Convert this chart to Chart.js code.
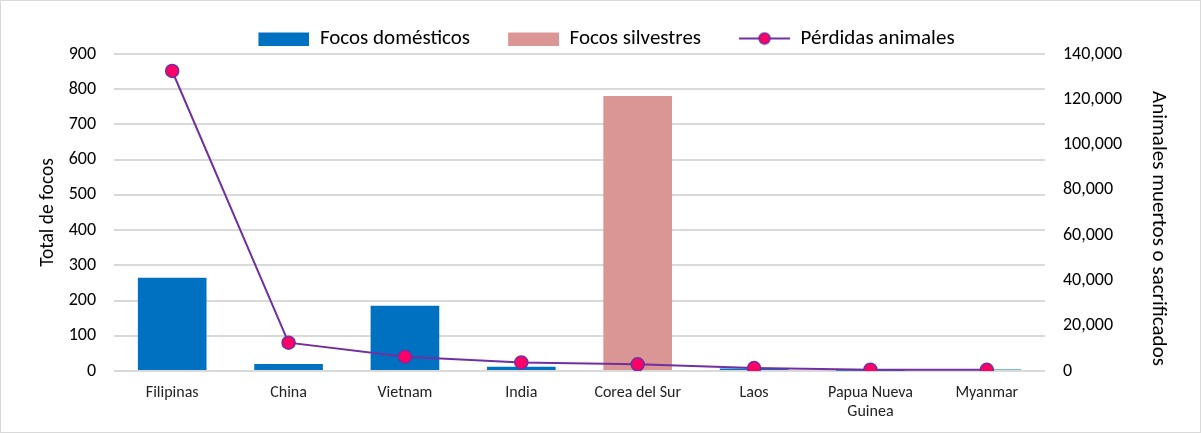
<!DOCTYPE html>
<html><head><meta charset="utf-8">
<script src="https://cdn.jsdelivr.net/npm/chart.js@4/dist/chart.umd.min.js"></script>
<style>html,body{margin:0;padding:0;background:#fff}#w{width:1201px;height:433px;position:relative}</style>
</head><body><div id="w"><canvas id="c" width="1201" height="433"></canvas></div>
<script>
const categories = ['Filipinas','China','Vietnam','India','Corea del Sur','Laos',['Papua Nueva','Guinea'],'Myanmar'];
const focosDomesticos = [265, 20, 185, 12, 0, 7, 1, 4];
const focosSilvestres = [0, 0, 0, 0, 781, 0, 0, 0];
const perdidasAnimales = [132500, 12500, 6300, 3800, 2950, 1300, 600, 500];
const leftTicks = [0,100,200,300,400,500,600,700,800,900];
const rightTicks = [0,20000,40000,60000,80000,100000,120000,140000];
const rightTitle = 'Animales muertos o sacrificados';

const FONT = "Carlito, Lato, 'Liberation Sans', sans-serif";
const BLUE = '#0070c0', PINK = '#da9694', PURPLE = '#7030a0', MAG = '#ff0066';
const M = 28, W = 51;
function boxImg(color){const c=document.createElement('canvas');c.width=M+W;c.height=14;const x=c.getContext('2d');x.fillStyle=color;x.fillRect(M,1,W,13);return c;}
function lineImg(){const c=document.createElement('canvas');c.width=M+W;c.height=14;const x=c.getContext('2d');x.strokeStyle=PURPLE;x.lineWidth=2;x.beginPath();x.moveTo(M,7);x.lineTo(M+W,7);x.stroke();x.beginPath();x.arc(M+W/2,7,5.5,0,Math.PI*2);x.fillStyle=MAG;x.fill();x.lineWidth=1.5;x.stroke();return c;}
const legImgs=[boxImg(BLUE),boxImg(PINK),lineImg()];

const framePlugin={id:'frame',
  afterLayout(ch){const l=ch.legend;if(l){l.left+=13;l.right+=13;}},
  afterDraw(ch){const x=ch.ctx;x.save();x.strokeStyle='#d9d9d9';x.lineWidth=1;x.strokeRect(0.5,0.5,ch.width-1,ch.height-1);
    const s=ch.scales.y1;const cy=(s.top+s.bottom)/2+16;
    x.translate(s.right-43,cy);x.rotate(Math.PI/2);x.fillStyle='#000';x.font='21px '+FONT;x.textAlign='center';x.textBaseline='middle';x.fillText(rightTitle,0,0);
    x.restore();}};

new Chart(document.getElementById('c'),{
  data:{labels:categories,datasets:[
    {type:'bar',label:'Focos domésticos',data:focosDomesticos,backgroundColor:BLUE,yAxisID:'y',order:2,barPercentage:0.59,categoryPercentage:1},
    {type:'bar',label:'Focos silvestres',data:focosSilvestres,backgroundColor:PINK,yAxisID:'y',order:2,barPercentage:0.59,categoryPercentage:1},
    {type:'line',label:'Pérdidas animales',data:perdidasAnimales,borderColor:PURPLE,borderWidth:2,pointBackgroundColor:MAG,pointBorderColor:PURPLE,pointBorderWidth:1.5,pointRadius:6.5,yAxisID:'y1',order:1,tension:0}
  ]},
  options:{
    responsive:false,animation:false,
    layout:{padding:{left:36,right:0,top:18,bottom:0}},
    plugins:{
      legend:{position:'top',fullSize:false,maxHeight:36,labels:{usePointStyle:true,pointStyleWidth:M+W,boxHeight:14,padding:10,color:'#000',font:{family:FONT,size:21},
        generateLabels(ch){return ch.data.datasets.map((d,i)=>({text:d.label,pointStyle:legImgs[i],datasetIndex:i,fillStyle:'transparent',strokeStyle:'transparent',lineWidth:0,hidden:false,fontColor:'#000'}));}}},
      tooltip:{enabled:false}
    },
    scales:{
      x:{stacked:true,afterFit(a){a.height=62;},grid:{display:false},border:{display:false},ticks:{color:'#222',font:{family:FONT,size:16,lineHeight:1.2},maxRotation:0,autoSkip:false,padding:4}},
      y:{stacked:true,position:'left',min:0,max:900,afterBuildTicks(a){a.ticks=leftTicks.map(v=>({value:v}));},
        afterFit(a){a.width=78;},
        grid:{color:'#d9d9d9',lineWidth:2,drawTicks:false},border:{display:false},
        ticks:{color:'#000',font:{family:FONT,size:18},padding:18},
        title:{display:true,text:'Total de focos',color:'#000',font:{family:FONT,size:19.5},padding:0}},
      y1:{position:'right',min:0,max:140000,afterBuildTicks(a){a.ticks=rightTicks.map(v=>({value:v}));},
        afterFit(a){a.width=156;},
        grid:{display:false,drawTicks:false},border:{display:false},
        ticks:{color:'#000',font:{family:FONT,size:18},padding:18,callback:v=>v.toLocaleString('en-US')},
        title:{display:false}}
    }
  },
  plugins:[framePlugin]
});
</script></body></html>
